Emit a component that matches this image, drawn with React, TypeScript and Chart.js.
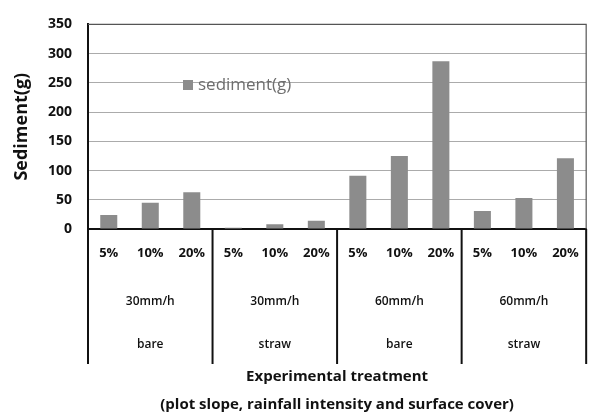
import React, { useEffect, useRef } from "react";
import { Chart, registerables } from "chart.js";

Chart.register(...registerables);

const slopes = ["5%", "10%", "20%", "5%", "10%", "20%", "5%", "10%", "20%", "5%", "10%", "20%"];
const rainfall = ["30mm/h", "30mm/h", "60mm/h", "60mm/h"];
const cover = ["bare", "straw", "bare", "straw"];
const sediment = [24, 45, 63, 2, 8, 14, 91, 125, 287, 31, 53, 121];
const seriesLabel = "sediment(g)";
const yTitle = "Sediment(g)";
const xTitle = ["Experimental treatment", "(plot slope, rainfall intensity and surface cover)"];
const yMax = 350;
const yStep = 50;

const FONT = "'Open Sans', 'DejaVu Sans', sans-serif";
const BAR_COLOR = "#8c8c8c";

const decorPlugin = {
  id: "decor",
  afterDatasetsDraw(chart: any) {
    const { ctx, chartArea, scales } = chart;
    const x = scales.x;
    const x3 = scales.x3;
    const half = (x.getPixelForValue(1) - x.getPixelForValue(0)) / 2;
    ctx.save();
    // plot frame top and right
    ctx.strokeStyle = "#555555";
    ctx.lineWidth = 1.2;
    ctx.beginPath();
    ctx.moveTo(chartArea.left, chartArea.top);
    ctx.lineTo(chartArea.right, chartArea.top);
    ctx.lineTo(chartArea.right, chartArea.bottom);
    ctx.stroke();
    // group separators
    ctx.strokeStyle = "#111111";
    ctx.lineWidth = 2;
    const groups = rainfall.length;
    const per = slopes.length / groups;
    for (let g = 0; g <= groups; g++) {
      let px;
      if (g === 0) px = x.getPixelForValue(0) - half;
      else px = x.getPixelForValue(g * per - 1) + half;
      ctx.beginPath();
      ctx.moveTo(px, chartArea.bottom);
      ctx.lineTo(px, x3.top + 42);
      ctx.stroke();
    }
    // legend inside plot
    const ds = chart.data.datasets[0];
    ctx.fillStyle = ds.backgroundColor;
    ctx.fillRect(183, 80, 10, 10);
    ctx.fillStyle = "#6e6e6e";
    ctx.font = `17px ${FONT}`;
    ctx.textBaseline = "middle";
    ctx.textAlign = "left";
    ctx.fillText(ds.label, 198, 85);
    ctx.restore();
  },
};

export default function App() {
  const ref = useRef<HTMLCanvasElement | null>(null);
  useEffect(() => {
    if (!ref.current) return;
    const chart = new Chart(ref.current, {
      type: "bar",
      data: {
        labels: slopes,
        datasets: [
          {
            label: seriesLabel,
            data: sediment,
            backgroundColor: BAR_COLOR,
            borderWidth: 0,
            categoryPercentage: 1,
            barPercentage: 0.41,
            xAxisID: "x",
          },
        ],
      },
      options: {
        animation: false,
        responsive: false,
        maintainAspectRatio: false,
        layout: { padding: { left: 8, top: 15, right: 7, bottom: 0 } },
        plugins: {
          legend: { display: false },
          tooltip: { enabled: false },
        },
        scales: {
          x: {
            type: "category",
            position: "bottom",
            offset: true,
            grid: { display: false, drawTicks: false },
            border: { display: true, color: "#111111", width: 2 },
            ticks: {
              color: "#111111",
              font: { family: FONT, size: 13, weight: "bold" },
              padding: 16,
              maxRotation: 0,
              autoSkip: false,
            },
            afterFit: (s: any) => {
              s.height = 47;
            },
          },
          x2: {
            type: "category",
            position: "bottom",
            labels: rainfall,
            offset: true,
            grid: { display: false, drawTicks: false },
            border: { display: false },
            ticks: {
              color: "#111111",
              font: { family: FONT, size: 12, weight: "600" },
              padding: 18,
              maxRotation: 0,
              autoSkip: false,
            },
            afterFit: (s: any) => {
              s.height = 46;
            },
          },
          x3: {
            type: "category",
            position: "bottom",
            labels: cover,
            offset: true,
            grid: { display: false, drawTicks: false },
            border: { display: false },
            ticks: {
              color: "#111111",
              font: { family: FONT, size: 12, weight: "600" },
              padding: 15,
              maxRotation: 0,
              autoSkip: false,
            },
            title: {
              display: true,
              text: xTitle,
              color: "#111111",
              font: { family: FONT, size: 15, weight: "bold", lineHeight: "28px" },
              padding: { top: 0, bottom: -5 },
            },
            afterFit: (s: any) => {
              s.height = 92;
            },
          },
          y: {
            min: 0,
            max: yMax,
            ticks: {
              stepSize: yStep,
              color: "#111111",
              font: { family: FONT, size: 14, weight: "bold" },
              padding: 16,
            },
            grid: { color: "#ababab", lineWidth: 1, drawTicks: false },
            border: { display: true, color: "#111111", width: 2 },
            title: {
              display: true,
              text: yTitle,
              color: "#111111",
              font: { family: FONT, size: 18, weight: "bold" },
              padding: { top: 3, bottom: 0 },
            },
            afterFit: (s: any) => {
              s.width = 80;
            },
          },
        },
      },
      plugins: [decorPlugin],
    });
    return () => chart.destroy();
  }, []);
  return (
    <div style={{ position: "absolute", left: 0, top: 0, width: 595, height: 414, background: "#ffffff" }}>
      <canvas ref={ref} width={595} height={414} style={{ display: "block" }} />
    </div>
  );
}
